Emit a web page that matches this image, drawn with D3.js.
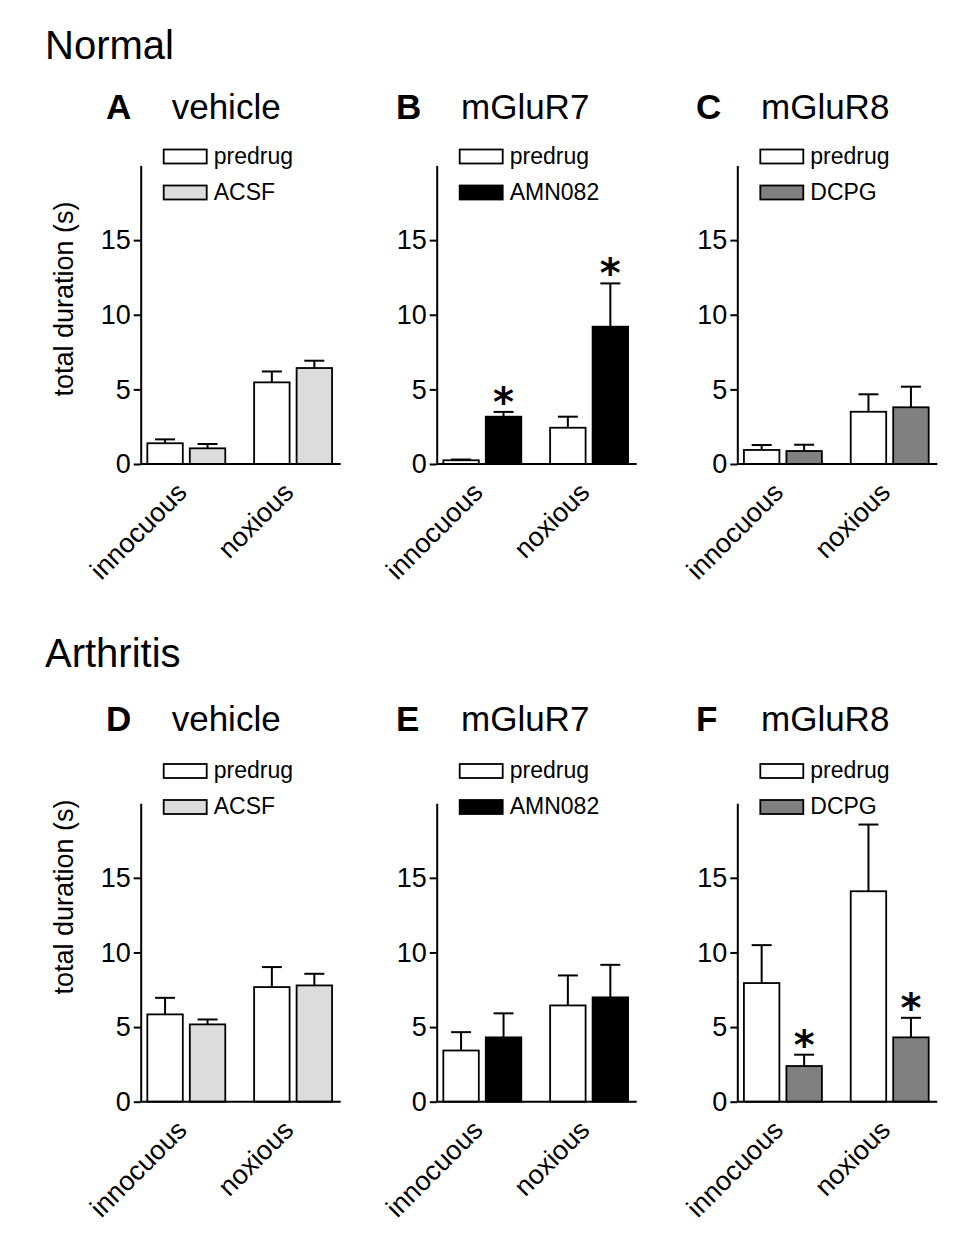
<!DOCTYPE html>
<html>
<head>
<meta charset="utf-8">
<script src="https://cdn.jsdelivr.net/npm/d3@7"></script>
<style>
  body { margin: 0; background: #fff; }
  svg { font-family: "Liberation Sans", Arial, sans-serif; }
</style>
</head>
<body>
<div id="chart"></div>
<script>
// values (total duration, s)
const rowTitles = ["Normal", "Arthritis"]
const groups = ["innocuous", "noxious"]
const panelLetters = ["A", "B", "C", "D", "E", "F"]
const panelNames = ["vehicle", "mGluR7", "mGluR8", "vehicle", "mGluR7", "mGluR8"]
const drugNames = ["ACSF", "AMN082", "DCPG", "ACSF", "AMN082", "DCPG"]
const predrugMean = [[1.39, 5.47], [0.25, 2.43], [0.94, 3.5], [5.85, 7.68], [3.43, 6.45], [7.95, 14.1]]
const predrugErr = [[0.26, 0.73], [0.05, 0.74], [0.33, 1.17], [1.11, 1.34], [1.23, 2.01], [2.54, 4.47]]
const drugMean = [[1.05, 6.43], [3.17, 9.2], [0.87, 3.8], [5.18, 7.79], [4.31, 6.99], [2.39, 4.31]]
const drugErr = [[0.29, 0.49], [0.32, 2.9], [0.42, 1.38], [0.33, 0.78], [1.61, 2.18], [0.76, 1.31]]
const drugSignif = [[0, 0], [1, 1], [0, 0], [0, 0], [0, 0], [1, 1]]
const yTicks = [0, 5, 10, 15]
const yLabel = "total duration (s)"

// layout
const W = 974, H = 1244
const colX = [140.7, 436.7, 737.3]       // y axis position of each column
const rowBase = [464, 1101.7]            // y of zero line
const rowLegendY = [149.5, 764]          // top of first legend box
const rowTitleY = [59.3, 666.7]
const rowPanelTitleY = [119.3, 730.7]
const rowYLabelY = [299, 897]
const letterX = [106, 396, 696]
const nameX = [171.7, 461, 761]
const plotH = 298.5, plotW = 200

const fillColor = {
  predrug: "#ffffff",
  ACSF: "#dcdcdc",
  AMN082: "#000000",
  DCPG: "#808080"
}

const svg = d3.select("#chart").append("svg")
  .attr("width", W)
  .attr("height", H)

// row titles
svg.selectAll("text.rowtitle")
  .data(rowTitles)
  .enter()
  .append("text")
  .attr("class", "rowtitle")
  .attr("x", 45)
  .attr("y", (d, i) => rowTitleY[i])
  .style("font-size", "40px")
  .text(d => d)

panelLetters.forEach(function(letter, p) {
  const row = Math.floor(p / 3), col = p % 3
  const g = svg.append("g")
    .attr("transform", "translate(" + colX[col] + "," + (rowBase[row] - plotH) + ")")

  const y = d3.scaleLinear().domain([0, 20]).range([plotH, 0])
  const x0 = d3.scaleBand().domain(groups).range([0, 198]).paddingInner(0.27).paddingOuter(0.062)
  const series = ["predrug", drugNames[p]]
  const x1 = d3.scaleBand().domain(series).range([0, x0.bandwidth()]).paddingInner(0.165)

  const rows = []
  groups.forEach(function(grp, gi) {
    rows.push({ grp: grp, key: "predrug", mean: predrugMean[p][gi], err: predrugErr[p][gi], sig: 0 })
    rows.push({ grp: grp, key: drugNames[p], mean: drugMean[p][gi], err: drugErr[p][gi], sig: drugSignif[p][gi] })
  })

  // bars
  g.selectAll("rect.bar")
    .data(rows)
    .enter()
    .append("rect")
    .attr("class", "bar")
    .attr("x", d => x0(d.grp) + x1(d.key))
    .attr("width", x1.bandwidth())
    .attr("y", d => y(d.mean))
    .attr("height", d => y(0) - y(d.mean))
    .style("fill", d => fillColor[d.key])
    .style("stroke", "#000")
    .style("stroke-width", 1.8)

  // error bars (upper only)
  const eb = g.selectAll("g.err")
    .data(rows)
    .enter()
    .append("g")
    .attr("class", "err")
    .attr("transform", d => "translate(" + (x0(d.grp) + x1(d.key) + x1.bandwidth() / 2) + ",0)")
  eb.append("line")
    .attr("x1", 0).attr("x2", 0)
    .attr("y1", d => y(d.mean))
    .attr("y2", d => y(d.mean + d.err))
    .style("stroke", "#000").style("stroke-width", 2)
  eb.append("line")
    .attr("x1", -10).attr("x2", 10)
    .attr("y1", d => y(d.mean + d.err))
    .attr("y2", d => y(d.mean + d.err))
    .style("stroke", "#000").style("stroke-width", 2)

  // significance stars
  g.selectAll("text.star")
    .data(rows.filter(d => d.sig))
    .enter()
    .append("text")
    .attr("class", "star")
    .attr("x", d => x0(d.grp) + x1(d.key) + x1.bandwidth() / 2)
    .attr("y", d => y(d.mean + d.err) + 4)
    .attr("text-anchor", "middle")
    .style("font-family", "DejaVu Sans")
    .style("font-weight", "bold")
    .style("font-size", "40px")
    .text("*")

  // y axis
  const yAxis = g.append("g")
    .call(d3.axisLeft(y).tickValues(yTicks).tickSize(7).tickSizeOuter(0).tickPadding(3))
  yAxis.selectAll("path, line").style("stroke", "#000").style("stroke-width", 2)
  yAxis.selectAll("text")
    .style("font-size", "27px")
    .style("font-family", "Liberation Sans, Arial, sans-serif")
    .style("fill", "#000")

  // x axis line
  g.append("line")
    .attr("x1", 0).attr("x2", plotW)
    .attr("y1", y(0)).attr("y2", y(0))
    .style("stroke", "#000").style("stroke-width", 2)

  // category labels
  g.selectAll("text.cat")
    .data(groups)
    .enter()
    .append("text")
    .attr("class", "cat")
    .attr("transform", d => "translate(" + (x0(d) + x0.bandwidth() / 2 + 2) + "," + (y(0) + 30) + ") rotate(-45)")
    .attr("text-anchor", "end")
    .style("font-size", "27px")
    .text(d => d)

  // legend
  const leg = g.selectAll("g.leg")
    .data(series)
    .enter()
    .append("g")
    .attr("class", "leg")
    .attr("transform", (d, i) => "translate(23," + (rowLegendY[row] - (rowBase[row] - plotH) + i * 36) + ")")
  leg.append("rect")
    .attr("width", 43).attr("height", 14)
    .style("fill", d => fillColor[d])
    .style("stroke", "#000").style("stroke-width", 1.8)
  leg.append("text")
    .attr("x", 50).attr("y", 14)
    .style("font-size", "23px")
    .text(d => d)

  // panel title
  svg.append("text")
    .attr("x", letterX[col]).attr("y", rowPanelTitleY[row])
    .style("font-size", "35px").style("font-weight", "bold")
    .text(letter)
  svg.append("text")
    .attr("x", nameX[col]).attr("y", rowPanelTitleY[row])
    .style("font-size", "35px")
    .text(panelNames[p])

  // y label on first column
  if (col === 0) {
    svg.append("text")
      .attr("transform", "translate(73," + rowYLabelY[row] + ") rotate(-90)")
      .attr("text-anchor", "middle")
      .style("font-size", "27px")
      .text(yLabel)
  }
})
</script>
</body>
</html>
